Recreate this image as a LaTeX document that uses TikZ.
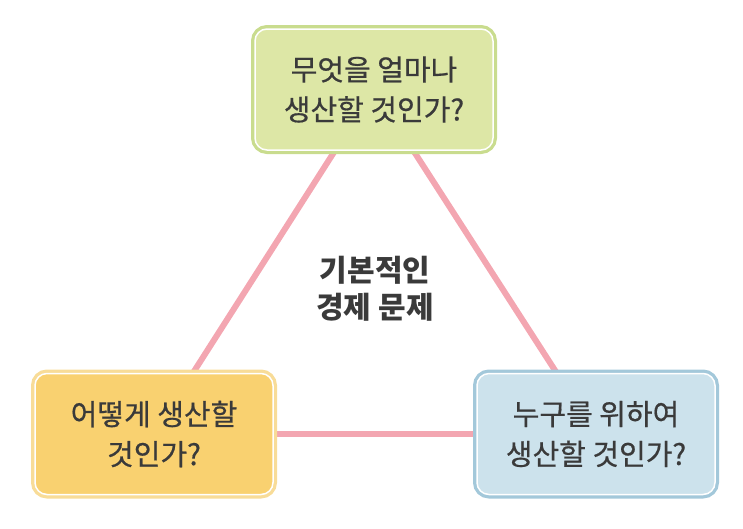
\documentclass[tikz,border=0pt]{standalone}
\usepackage{fontspec}
\setmainfont{Noto Sans CJK KR}
\newfontfamily\boxfont{Noto Sans CJK KR}[FakeBold=0.6]
\usetikzlibrary{backgrounds}

\definecolor{txtgray}{HTML}{3A3A3A}
\definecolor{linkpink}{HTML}{F3A6B1}
\definecolor{greenfill}{HTML}{DDE7A6}
\definecolor{greenedge}{HTML}{C9DC8E}
\definecolor{yellowfill}{HTML}{F9D170}
\definecolor{yellowedge}{HTML}{F8DC98}
\definecolor{bluefill}{HTML}{CCE2EC}
\definecolor{blueedge}{HTML}{A3C8DA}

\tikzset{
  box/.style={rectangle, rounded corners=12pt, minimum width=238pt, minimum height=121pt,
    draw=white, line width=1.5pt, fill=#1fill, preaction={draw=#1edge, line width=8pt},
    align=center, text=txtgray, font=\boxfont\fontsize{29}{40}\selectfont},
  link/.style={draw=linkpink, line width=6pt}
}

\begin{document}
\begin{tikzpicture}[x=1pt, y=-1pt]
  \useasboundingbox (0,0) rectangle (743,528);
  \node[box=green] (what) at (374,89.5) {무엇을 얼마나\\생산할 것인가?};
  \node[box=yellow] (how) at (154,434) {어떻게 생산할\\것인가?};
  \node[box=blue] (whom) at (596,434) {누구를 위하여\\생산할 것인가?};
  \node[align=center, text=txtgray, font=\bfseries\fontsize{30}{37}\selectfont] (basic) at (375,289) {기본적인\\경제 문제};
  \begin{scope}[on background layer]
    \draw[link] (what.center) -- (how.center);
    \draw[link] (what.center) -- (whom.center);
    \draw[link] (how.center) -- (whom.center);
  \end{scope}
\end{tikzpicture}
\end{document}
